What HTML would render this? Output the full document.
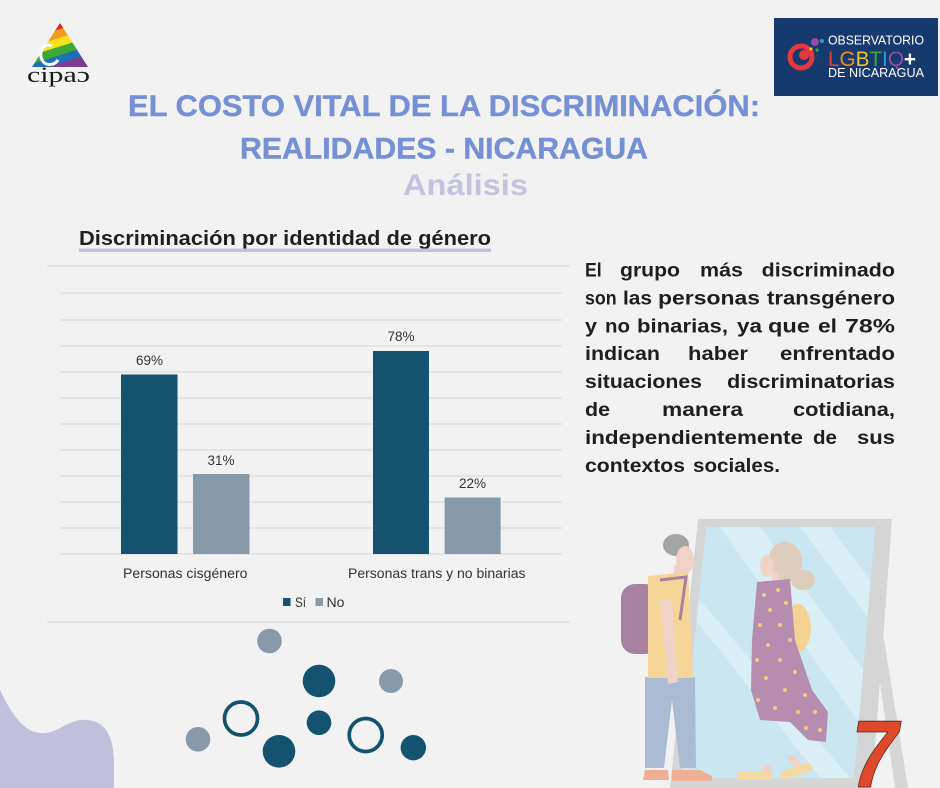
<!DOCTYPE html>
<html><head><meta charset="utf-8"><style>
html,body{margin:0;padding:0;background:#f2f2f2;}
svg{display:block;}
</style></head><body>
<svg width="940" height="788" viewBox="0 0 940 788" xmlns="http://www.w3.org/2000/svg">
<defs>
<linearGradient id="rb" x1="0.35" y1="0" x2="0.75" y2="1">
<stop offset="0" stop-color="#e2231a"/><stop offset="0.17" stop-color="#e2231a"/>
<stop offset="0.17" stop-color="#f39a1f"/><stop offset="0.34" stop-color="#f39a1f"/>
<stop offset="0.34" stop-color="#f7e11b"/><stop offset="0.51" stop-color="#f7e11b"/>
<stop offset="0.51" stop-color="#3aa935"/><stop offset="0.68" stop-color="#3aa935"/>
<stop offset="0.68" stop-color="#1f6fb8"/><stop offset="0.84" stop-color="#1f6fb8"/>
<stop offset="0.84" stop-color="#7a3d91"/><stop offset="1" stop-color="#7a3d91"/>
</linearGradient>
<clipPath id="glass"><polygon points="706,527 875,527 854,778 681,778"/></clipPath>
</defs>
<rect width="940" height="788" fill="#f2f2f2"/>

<!-- cipac logo -->
<polygon points="60,23 32,67 88,67" fill="url(#rb)"/>
<path d="M52,46 C44,42 38,52 42,60 C45,66 54,66 58,60" fill="none" stroke="#ffffff" stroke-width="3"/>
<text x="27" y="82" font-family="Liberation Serif, serif" font-size="22" fill="#1a1a1a" textLength="63" lengthAdjust="spacingAndGlyphs">cipaɔ</text>

<!-- Observatorio logo -->
<rect x="774" y="18" width="164" height="78" fill="#173a6e"/>
<circle cx="801" cy="57" r="11" fill="none" stroke="#e8383d" stroke-width="5"/>
<circle cx="804" cy="55" r="5" fill="#e8383d"/>
<circle cx="815" cy="42" r="4" fill="#8e4fa3"/>
<circle cx="822" cy="41" r="2" fill="#2b9ad8"/>
<circle cx="811" cy="49" r="1.6" fill="#f3c21b"/>
<circle cx="817" cy="50" r="1.6" fill="#3aa935"/>
<text x="828" y="44.5" font-family="Liberation Sans, sans-serif" font-size="13" fill="#fff" textLength="96" lengthAdjust="spacingAndGlyphs">OBSERVATORIO</text>
<text x="828" y="66" font-family="Liberation Sans, sans-serif" font-size="21" textLength="88" lengthAdjust="spacingAndGlyphs"><tspan fill="#e8383d">L</tspan><tspan fill="#f08a23">G</tspan><tspan fill="#f3c21b">B</tspan><tspan fill="#3aa935">T</tspan><tspan fill="#2b9ad8">I</tspan><tspan fill="#8e4fa3">Q</tspan><tspan fill="#fff" font-weight="bold">+</tspan></text>
<text x="828" y="77" font-family="Liberation Sans, sans-serif" font-size="13" fill="#fff" textLength="96" lengthAdjust="spacingAndGlyphs">DE NICARAGUA</text>

<!-- Titles -->
<text x="128" y="116" font-family="Liberation Sans, sans-serif" font-weight="bold" font-size="30" fill="#7690d6" stroke="#7690d6" stroke-width="0.4" textLength="632" lengthAdjust="spacingAndGlyphs">EL COSTO VITAL DE LA DISCRIMINACIÓN:</text>
<text x="240" y="158.5" font-family="Liberation Sans, sans-serif" font-weight="bold" font-size="30" fill="#7690d6" stroke="#7690d6" stroke-width="0.4" textLength="408" lengthAdjust="spacingAndGlyphs">REALIDADES - NICARAGUA</text>
<text x="403" y="195" font-family="Liberation Sans, sans-serif" font-weight="bold" font-size="30" fill="#c3c3dd" textLength="125" lengthAdjust="spacingAndGlyphs">Análisis</text>

<!-- Chart subtitle -->
<text x="79" y="245" font-family="Liberation Sans, sans-serif" font-weight="bold" font-size="20" fill="#1f1f1f" textLength="412" lengthAdjust="spacingAndGlyphs">Discriminación por identidad de género</text>
<rect x="79" y="248.5" width="412" height="3.5" fill="#c0c0dc"/>

<!-- Chart frame & gridlines -->
<g stroke="#dcdcdc" stroke-width="1.2">
<line x1="47" y1="266" x2="570" y2="266"/>
<line x1="47" y1="622" x2="570" y2="622"/>
<line x1="60" y1="293" x2="562" y2="293"/>
<line x1="60" y1="320" x2="562" y2="320"/>
<line x1="60" y1="346" x2="562" y2="346"/>
<line x1="60" y1="372" x2="562" y2="372"/>
<line x1="60" y1="398" x2="562" y2="398"/>
<line x1="60" y1="424" x2="562" y2="424"/>
<line x1="60" y1="450" x2="562" y2="450"/>
<line x1="60" y1="476" x2="562" y2="476"/>
<line x1="60" y1="502" x2="562" y2="502"/>
<line x1="60" y1="528" x2="562" y2="528"/>
<line x1="60" y1="554" x2="562" y2="554"/>
</g>
<!-- Bars -->
<rect x="121" y="374.5" width="56.5" height="179.5" fill="#13536f"/>
<rect x="193" y="474" width="56.5" height="80" fill="#8899aa"/>
<rect x="373" y="351" width="56" height="203" fill="#13536f"/>
<rect x="444.6" y="497.5" width="56" height="56.5" fill="#8899aa"/>
<g font-family="Liberation Sans, sans-serif" font-size="13.5" fill="#333" text-anchor="middle">
<text x="149.5" y="365">69%</text>
<text x="221" y="465">31%</text>
<text x="401" y="341">78%</text>
<text x="472.5" y="488">22%</text>
</g>
<g font-family="Liberation Sans, sans-serif" font-size="13.5" fill="#333">
<text x="123" y="578" textLength="124.5" lengthAdjust="spacingAndGlyphs">Personas cisgénero</text>
<text x="348" y="578" textLength="177.5" lengthAdjust="spacingAndGlyphs">Personas trans y no binarias</text>
<rect x="283" y="598" width="7.5" height="8" fill="#13536f" stroke="none"/>
<text x="295" y="607" textLength="11" lengthAdjust="spacingAndGlyphs">Sí</text>
<rect x="315.5" y="598" width="7.5" height="8" fill="#8899aa" stroke="none"/>
<text x="326.5" y="607" textLength="18" lengthAdjust="spacingAndGlyphs">No</text>
</g>

<!-- Paragraph -->
<g font-family="Liberation Sans, sans-serif" font-weight="bold" font-size="19.5" fill="#1e1e1e">
<text x="585" y="276.5" textLength="16.7" lengthAdjust="spacingAndGlyphs">El</text>
<text x="620" y="276.5" textLength="60" lengthAdjust="spacingAndGlyphs">grupo</text>
<text x="700" y="276.5" textLength="43" lengthAdjust="spacingAndGlyphs">más</text>
<text x="761.7" y="276.5" textLength="133.3" lengthAdjust="spacingAndGlyphs">discriminado</text>

<text x="585" y="304.4" textLength="31.7" lengthAdjust="spacingAndGlyphs">son</text>
<text x="623" y="304.4" textLength="29" lengthAdjust="spacingAndGlyphs">las</text>
<text x="658" y="304.4" textLength="102" lengthAdjust="spacingAndGlyphs">personas</text>
<text x="767" y="304.4" textLength="128" lengthAdjust="spacingAndGlyphs">transgénero</text>

<text x="585" y="332.3" textLength="12" lengthAdjust="spacingAndGlyphs">y</text>
<text x="605" y="332.3" textLength="25" lengthAdjust="spacingAndGlyphs">no</text>
<text x="637" y="332.3" textLength="91" lengthAdjust="spacingAndGlyphs">binarias,</text>
<text x="737" y="332.3" textLength="25" lengthAdjust="spacingAndGlyphs">ya</text>
<text x="768" y="332.3" textLength="42" lengthAdjust="spacingAndGlyphs">que</text>
<text x="818" y="332.3" textLength="19" lengthAdjust="spacingAndGlyphs">el</text>
<text x="845" y="332.3" textLength="50" lengthAdjust="spacingAndGlyphs">78%</text>

<text x="585" y="360.2" textLength="75" lengthAdjust="spacingAndGlyphs">indican</text>
<text x="688" y="360.2" textLength="60" lengthAdjust="spacingAndGlyphs">haber</text>
<text x="780" y="360.2" textLength="115" lengthAdjust="spacingAndGlyphs">enfrentado</text>

<text x="585" y="388.1" textLength="117" lengthAdjust="spacingAndGlyphs">situaciones</text>
<text x="727" y="388.1" textLength="168" lengthAdjust="spacingAndGlyphs">discriminatorias</text>

<text x="585" y="416" textLength="25" lengthAdjust="spacingAndGlyphs">de</text>
<text x="662" y="416" textLength="81" lengthAdjust="spacingAndGlyphs">manera</text>
<text x="793" y="416" textLength="102" lengthAdjust="spacingAndGlyphs">cotidiana,</text>

<text x="585" y="443.9" textLength="218" lengthAdjust="spacingAndGlyphs">independientemente</text>
<text x="813" y="443.9" textLength="24" lengthAdjust="spacingAndGlyphs">de</text>
<text x="857" y="443.9" textLength="38" lengthAdjust="spacingAndGlyphs">sus</text>

<text x="585" y="471.8" textLength="100" lengthAdjust="spacingAndGlyphs">contextos</text>
<text x="693" y="471.8" textLength="87" lengthAdjust="spacingAndGlyphs">sociales.</text>
</g>

<!-- Bottom-left blob -->
<path d="M0,690 C12,715 25,735 45,733 C60,732 70,718 88,720 C105,722 113,735 114,760 L114,788 L0,788 Z" fill="#c0c0dd"/>

<!-- Circles -->
<circle cx="269.5" cy="641" r="12.3" fill="#8899aa"/>
<circle cx="319" cy="681" r="16.3" fill="#13536f"/>
<circle cx="391" cy="681" r="12" fill="#8899aa"/>
<circle cx="241" cy="718.5" r="16.5" fill="none" stroke="#13536f" stroke-width="3.7"/>
<circle cx="319" cy="722.7" r="12.3" fill="#13536f"/>
<circle cx="365.7" cy="735" r="16.5" fill="none" stroke="#13536f" stroke-width="3.7"/>
<circle cx="198" cy="739.3" r="12.3" fill="#8899aa"/>
<circle cx="279" cy="751.3" r="16.3" fill="#13536f"/>
<circle cx="413.3" cy="747.7" r="12.7" fill="#13536f"/>

<!-- Mirror illustration -->
<g opacity="0.9">
<polygon points="872,627 882,627 908,788 895,788" fill="#d4d4d4"/>
<polygon points="698,519 892,519 872,788 670,788" fill="#d2d2d2"/>
<polygon points="706,527 875,527 854,778 681,778" fill="#c6e6f1"/>
<g clip-path="url(#glass)" fill="#d7eef6">
<polygon points="720,527 760,527 900,720 900,780"/>
<polygon points="680,600 700,600 860,790 830,790"/>
<polygon points="800,527 830,527 900,620 900,660"/>
</g>
<!-- woman -->
<ellipse cx="785" cy="562" rx="17" ry="20" fill="#dcc9b6"/>
<ellipse cx="803" cy="580" rx="12" ry="10" fill="#dcc9b6"/>
<ellipse cx="767" cy="566" rx="7" ry="11" fill="#f0cfc2"/>
<polygon points="771,572 778,572 780,584 772,584" fill="#f0cfc2"/>
<ellipse cx="798" cy="628" rx="13" ry="24" fill="#f5d088"/>
<polygon points="763,765 771,765 773,778 760,778" fill="#f0cfc2"/>
<polygon points="786,755 795,755 806,770 797,772" fill="#f0cfc2"/>
<polygon points="737,772 770,772 771,780 737,780" fill="#f3d898"/>
<polygon points="780,772 810,762 813,770 783,780" fill="#f3d898"/>
<polygon points="757,582 790,579 795,640 812,690 828,712 826,742 808,740 790,722 760,720 751,690 752,640" fill="#b083aa"/>
<g fill="#f1c874">
<circle cx="764" cy="595" r="2"/><circle cx="778" cy="590" r="2"/><circle cx="786" cy="603" r="2"/>
<circle cx="770" cy="610" r="2"/><circle cx="760" cy="625" r="2"/><circle cx="780" cy="625" r="2"/>
<circle cx="790" cy="640" r="2"/><circle cx="768" cy="645" r="2"/><circle cx="757" cy="660" r="2"/>
<circle cx="780" cy="660" r="2"/><circle cx="795" cy="672" r="2"/><circle cx="766" cy="678" r="2"/>
<circle cx="785" cy="690" r="2"/><circle cx="805" cy="695" r="2"/><circle cx="758" cy="700" r="2"/>
<circle cx="775" cy="708" r="2"/><circle cx="815" cy="712" r="2"/><circle cx="798" cy="712" r="2"/>
<circle cx="820" cy="730" r="2"/><circle cx="806" cy="728" r="2"/>
</g>
<!-- man -->
<ellipse cx="676" cy="545" rx="13" ry="11" fill="#9c9c9c"/>
<ellipse cx="685" cy="560" rx="9" ry="14" fill="#f0cfc2"/>
<polygon points="674,565 686,565 688,578 674,578" fill="#f0cfc2"/>
<rect x="621" y="584" width="38" height="70" rx="14" fill="#a07599"/>
<polygon points="645,677 695,677 696,768 680,768 672,700 664,768 645,768" fill="#a3b6d0"/>
<polygon points="648,576 688,572 693,678 648,678" fill="#f6d38e"/>
<path d="M660,580 L686,577 L680,620" fill="none" stroke="#a07599" stroke-width="3"/>
<polygon points="660,600 672,600 678,682 668,684" fill="#f0cfc2"/>
<polygon points="645,770 668,770 669,780 643,780" fill="#efa88a"/>
<polygon points="672,770 700,770 712,776 712,781 672,781" fill="#efa88a"/>
</g>
<!-- page number -->
<text x="851" y="787" font-family="Liberation Sans, sans-serif" font-weight="bold" font-style="italic" font-size="96" fill="#e0482a" stroke="#4a2a22" stroke-width="0.8" textLength="47" lengthAdjust="spacingAndGlyphs">7</text>
</svg>
</body></html>
